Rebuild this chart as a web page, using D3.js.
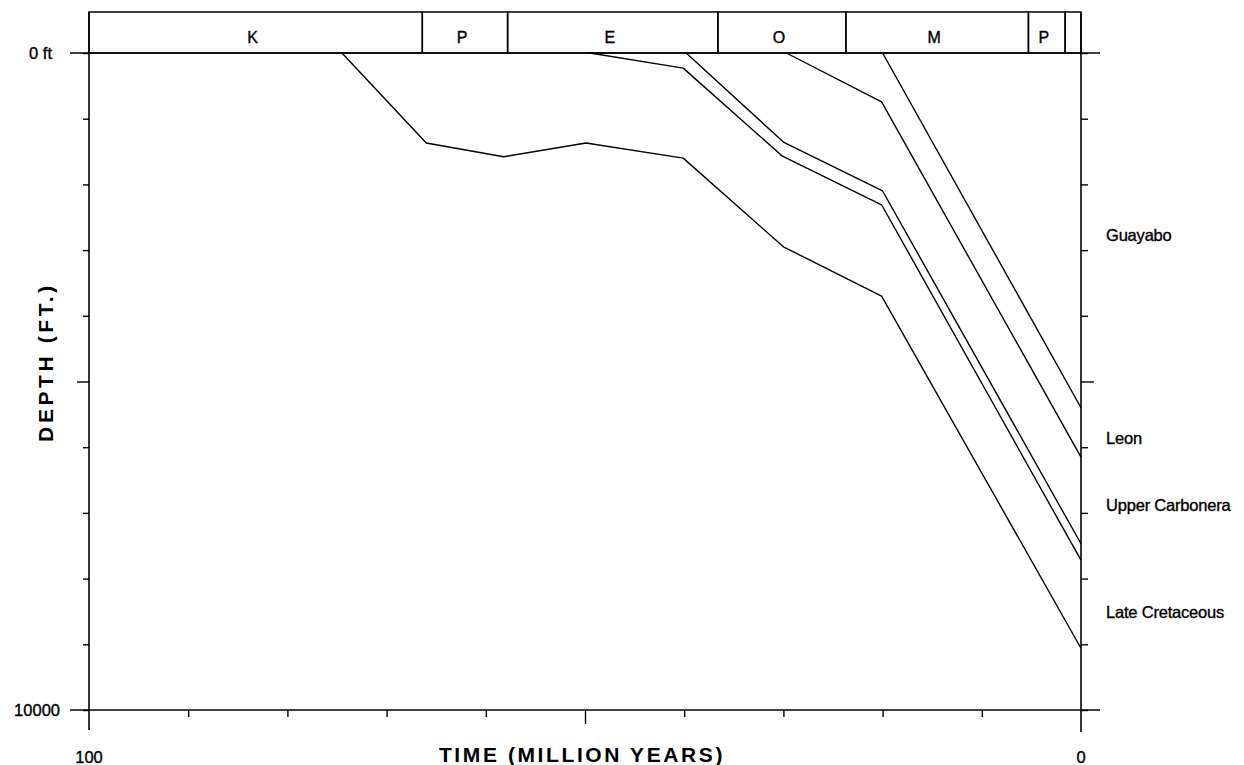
<!DOCTYPE html>
<html>
<head>
<meta charset="utf-8">
<script src="https://cdn.jsdelivr.net/npm/d3@7"></script>
<style>
  html, body { margin: 0; padding: 0; background: #fff; }
  svg { display: block; font-family: "Liberation Sans", Arial, Helvetica, sans-serif; }
  .lbl { fill: #000; stroke: #000; stroke-width: 0.35px; }
</style>
</head>
<body>
<svg id="chart" width="1244" height="765"></svg>
<script>
// ---- Data ----
const periodNames = ["K", "P", "E", "O", "M", "P", ""];
const periodBounds = [100, 66.4, 57.8, 36.6, 23.7, 5.3, 1.6, 0];

const depthTicks = [0, 1000, 2000, 3000, 4000, 5000, 6000, 7000, 8000, 9000, 10000];
const depthTickLabels = ["0 ft", "", "", "", "", "", "", "", "", "", "10000"];
const timeTicks = [100, 90, 80, 70, 60, 50, 40, 30, 20, 10, 0];
const timeTickLabels = ["100", "", "", "", "", "", "", "", "", "", "0"];

const lateCretTime  = [74.5, 66.0, 58.2, 49.9, 40.1, 30.0, 20.1, 0];
const lateCretDepth = [0, 1370, 1580, 1370, 1600, 2950, 3700, 9060];
const upperCarbBaseTime  = [49.5, 40.1, 30.1, 20.1, 0];
const upperCarbBaseDepth = [0, 230, 1570, 2310, 7720];
const upperCarbTopTime  = [39.8, 30.0, 20.0, 0];
const upperCarbTopDepth = [0, 1355, 2100, 7470];
const leonTime  = [29.7, 20.1, 0];
const leonDepth = [0, 745, 6150];
const guayaboTime  = [20.0, 0];
const guayaboDepth = [0, 5400];

const horizonNames  = ["Guayabo", "Leon", "Upper Carbonera", "Late Cretaceous"];
const horizonLabelDepths = [2770, 5860, 6880, 8510];

// ---- Layout ----
const svg = d3.select("#chart");
const x = d3.scaleLinear().domain([100, 0]).range([89, 1081]);
const y = d3.scaleLinear().domain([0, 10000]).range([53, 710]);
const bandTop = 12;

const curves = [
  [lateCretTime, lateCretDepth],
  [upperCarbBaseTime, upperCarbBaseDepth],
  [upperCarbTopTime, upperCarbTopDepth],
  [leonTime, leonDepth],
  [guayaboTime, guayaboDepth]
];

const line = d3.line().x(d => x(d[0])).y(d => y(d[1]));
svg.append("g").selectAll("path").data(curves).join("path")
  .attr("d", c => line(c[0].map((t, i) => [t, c[1][i]])))
  .attr("fill", "none").attr("stroke", "#000").attr("stroke-width", 1.4)
  .attr("stroke-linejoin", "round");

// ---- Period band ----
const periods = periodNames.map((n, i) => ({ name: n, start: periodBounds[i], end: periodBounds[i + 1] }));
const band = svg.append("g");
band.selectAll("rect").data(periods).join("rect")
  .attr("x", d => x(d.start)).attr("y", bandTop)
  .attr("width", d => x(d.end) - x(d.start)).attr("height", y(0) - bandTop)
  .attr("fill", "none").attr("stroke", "#000").attr("stroke-width", 1.5);
band.selectAll("text").data(periods).join("text")
  .attr("class", "lbl")
  .attr("x", d => (x(d.start) + x(d.end)) / 2 - 3)
  .attr("y", 43)
  .attr("text-anchor", "middle")
  .attr("font-size", 16)
  .text(d => d.name);

// ---- Axes ----
const leftAxis = d3.axisLeft(y).tickValues(depthTicks).tickSize(6).tickFormat("");
const gl = svg.append("g").attr("transform", `translate(${x(100)},0)`).call(leftAxis);
gl.select(".domain").remove();
gl.selectAll(".tick line").attr("x2", d => d === 5000 ? -12 : -6).attr("stroke", "#000").attr("stroke-width", 1.4);

const rightAxis = d3.axisRight(y).tickValues(depthTicks).tickSize(7).tickFormat("");
const gr = svg.append("g").attr("transform", `translate(${x(0)},0)`).call(rightAxis);
gr.select(".domain").remove();
gr.selectAll(".tick line").attr("x2", d => d === 5000 ? 13 : 7).attr("stroke", "#000").attr("stroke-width", 1.4);

const bottomAxis = d3.axisBottom(x).tickValues(timeTicks.slice(1, -1)).tickSize(7).tickFormat("");
const gb = svg.append("g").attr("transform", `translate(0,${y(10000)})`).call(bottomAxis);
gb.select(".domain").remove();
gb.selectAll(".tick line").attr("y2", d => d === 50 ? 14 : 7).attr("stroke", "#000").attr("stroke-width", 1.4);

// frame lines
const frame = svg.append("g").attr("stroke", "#000").attr("stroke-width", 1.6);
frame.append("line").attr("x1", 70).attr("x2", 1100).attr("y1", y(0)).attr("y2", y(0));
frame.append("line").attr("x1", 70).attr("x2", 1100).attr("y1", y(10000)).attr("y2", y(10000));
frame.append("line").attr("x1", x(100)).attr("x2", x(100)).attr("y1", bandTop).attr("y2", 730);
frame.append("line").attr("x1", x(0)).attr("x2", x(0)).attr("y1", bandTop).attr("y2", 732);

// tick labels
svg.append("g").selectAll("text").data(depthTicks.filter((d, i) => depthTickLabels[i]))
  .join("text")
  .attr("class", "lbl")
  .attr("x", 60).attr("y", d => y(d) + 6)
  .attr("text-anchor", "end").attr("font-size", 16.5)
  .attr("dx", d => d === 0 ? -8 : 0)
  .text(d => depthTickLabels[depthTicks.indexOf(d)]);

svg.append("g").selectAll("text").data(timeTicks.filter((d, i) => timeTickLabels[i]))
  .join("text")
  .attr("class", "lbl")
  .attr("x", d => x(d)).attr("y", 763)
  .attr("text-anchor", "middle").attr("font-size", 16.5)
  .text(d => timeTickLabels[timeTicks.indexOf(d)]);

// axis titles
svg.append("text")
  .attr("x", 582).attr("y", 762)
  .attr("text-anchor", "middle").attr("font-size", 21).attr("font-weight", "bold")
  .attr("letter-spacing", 2.6).attr("fill", "#000")
  .text("TIME (MILLION YEARS)");

svg.append("text")
  .attr("transform", `translate(53,362) rotate(-90)`)
  .attr("text-anchor", "middle").attr("font-size", 21).attr("font-weight", "bold")
  .attr("letter-spacing", 3.6).attr("fill", "#000")
  .text("DEPTH (FT.)");

// horizon labels
svg.append("g").selectAll("text").data(horizonNames).join("text")
  .attr("class", "lbl")
  .attr("x", x(0) + 25)
  .attr("y", (d, i) => y(horizonLabelDepths[i]) + 6)
  .attr("font-size", 16.5).attr("letter-spacing", -0.2)
  .text(d => d);
</script>
</body>
</html>
